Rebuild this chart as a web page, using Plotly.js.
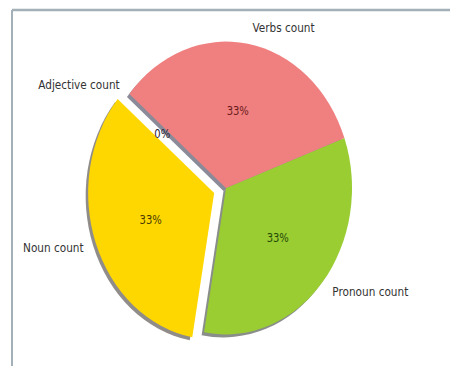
<!DOCTYPE html>
<html>
<head>
<meta charset="utf-8">
<script src="https://cdn.plot.ly/plotly-3.0.1.min.js"></script>
<style>
html,body{margin:0;padding:0;background:#fff;overflow:hidden;}
#wrap{width:450px;height:366px;overflow:hidden;}
#chart{width:450px;height:315px;transform:scaleY(1.1619);transform-origin:0 0;}
</style>
</head>
<body>
<div id="wrap"><div id="chart"></div></div>
<script>
const labels = ['Noun count', 'Pronoun count', 'Verbs count', 'Adjective count'];
const values = [1, 1, 1, 0];
const explode = [0.1, 0, 0, 0];
const colors = ['#ffd700', '#9acd32', '#f08080', '#87cefa'];
const shadowColors = ['rgba(70,64,60,0.6)', 'rgba(60,66,60,0.6)', 'rgba(60,60,85,0.6)', 'rgba(60,60,85,0.6)'];
const pctColors = ['#4a3a00', '#244a08', '#6a1a1a', '#2a2030'];

const W = 450, H = 315;
const cx = 226 / W, cy = 1 - 161.8 / H, D = 277.2;
function dom(scale, dxPx, dyPx) {
  const hw = D * scale / 2 / W, hh = D * scale / 2 / H;
  return {x: [cx - hw + dxPx / W, cx + hw + dxPx / W], y: [cy - hh + dyPx / H, cy + hh + dyPx / H]};
}
const clear = labels.map(() => 'rgba(0,0,0,0)');
const common = {
  type: 'pie', labels: labels, values: values, sort: false,
  direction: 'counterclockwise', rotation: -170, pull: explode,
  hoverinfo: 'skip', showlegend: false
};
const shadow = Object.assign({}, common, {
  domain: dom(1, -2.5, -2.6),
  marker: {colors: shadowColors, line: {width: 0}},
  textinfo: 'none'
});
const main = Object.assign({}, common, {
  domain: dom(1, 0, 0),
  marker: {colors: colors, line: {width: 0}},
  textinfo: 'percent', texttemplate: '%{percent:.0%}',
  textposition: 'inside', insidetextorientation: 'horizontal',
  insidetextfont: {family: 'DejaVu Sans', size: 10, color: pctColors}
});
const zeroPct = Object.assign({}, common, {
  pull: 0,
  domain: dom(0.5, 0, 0),
  marker: {colors: clear, line: {width: 0}},
  texttemplate: '%{percent:.0%}',
  textposition: values.map(v => v === 0 ? 'outside' : 'none'),
  outsidetextfont: {family: 'DejaVu Sans', size: 10, color: '#2a2030'}
});
const lbl = Object.assign({}, common, {
  domain: dom(1.07, 0, 0),
  marker: {colors: clear, line: {width: 0}},
  textinfo: 'label', textposition: 'outside',
  outsidetextfont: {family: 'DejaVu Sans', size: 10.5, color: '#333'}
});
const yLine = 1 - 8.6 / H;
const layout = {
  width: W, height: H, margin: {l: 0, r: 0, t: 0, b: 0},
  paper_bgcolor: '#fff', showlegend: false,
  shapes: [
    {type: 'line', xref: 'paper', yref: 'paper', x0: 12/W, x1: 1, y0: yLine, y1: yLine, line: {color: '#a4b0b8', width: 2}},
    {type: 'line', xref: 'paper', yref: 'paper', x0: 12/W, x1: 12/W, y0: 0, y1: yLine, line: {color: '#a4b0b8', width: 2}}
  ]
};
Plotly.newPlot('chart', [shadow, main, zeroPct, lbl], layout, {staticPlot: true, displayModeBar: false});
</script>
</body>
</html>
